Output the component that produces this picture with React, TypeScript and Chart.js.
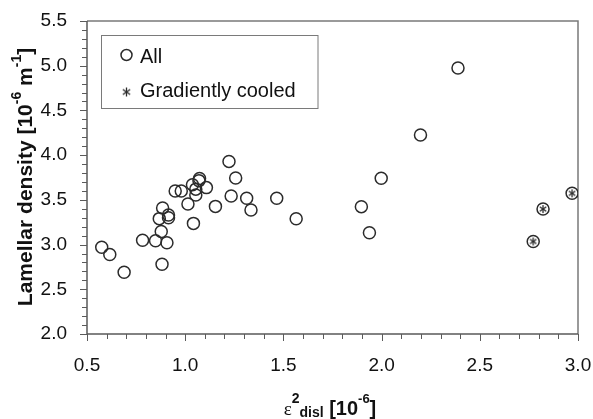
import { useEffect, useRef } from 'react';
import { Chart, registerables } from 'chart.js';

Chart.register(...registerables);

// ---- data ----
const allX = [0.575, 0.616, 0.689, 0.783, 0.849, 0.882, 0.878, 0.868, 0.885, 0.907, 0.915, 0.915, 0.949, 0.98, 1.014, 1.042, 1.037, 1.054, 1.054, 1.073, 1.07, 1.108, 1.154, 1.223, 1.234, 1.257, 1.313, 1.335, 1.466, 1.565, 1.897, 1.938, 1.998, 2.198, 2.389, 2.772, 2.822, 2.97];
const allY = [2.971, 2.889, 2.69, 3.049, 3.043, 2.78, 3.147, 3.29, 3.41, 3.02, 3.33, 3.3, 3.6, 3.6, 3.453, 3.237, 3.67, 3.62, 3.554, 3.738, 3.715, 3.637, 3.427, 3.93, 3.543, 3.745, 3.517, 3.386, 3.517, 3.289, 3.424, 3.132, 3.741, 4.226, 4.974, 3.035, 3.397, 3.573];
const gcX = [2.772, 2.822, 2.97];
const gcY = [3.035, 3.397, 3.573];
const seriesLabels = ['All', 'Gradiently cooled'];
const xTicks = [0.5, 1.0, 1.5, 2.0, 2.5, 3.0];
const yTicks = [2.0, 2.5, 3.0, 3.5, 4.0, 4.5, 5.0, 5.5];
const minorStep = 0.1;

const INK = '#2b2b2b';
const AXIS = '#5a5a5a';
const FRAME = '#7a7a7a';
const SANS = '"Liberation Sans", Arial, sans-serif';

function makeAsterisk(size: number, color: string, lw: number) {
  const c = document.createElement('canvas');
  c.width = size;
  c.height = size;
  const g = c.getContext('2d')!;
  g.strokeStyle = color;
  g.lineWidth = lw;
  const r = size / 2 - 1;
  const m = size / 2;
  for (const a of [90, 35, 145]) {
    const rad = (a * Math.PI) / 180;
    g.beginPath();
    g.moveTo(m - r * Math.cos(rad), m - r * Math.sin(rad));
    g.lineTo(m + r * Math.cos(rad), m + r * Math.sin(rad));
    g.stroke();
  }
  return c;
}

type Seg = { t: string; font: string; dy: number };
function drawRich(ctx: CanvasRenderingContext2D, segs: Seg[], cx: number, by: number) {
  let w = 0;
  for (const s of segs) {
    ctx.font = s.font;
    w += ctx.measureText(s.t).width;
  }
  let x = cx - w / 2;
  ctx.textAlign = 'left';
  ctx.textBaseline = 'alphabetic';
  for (const s of segs) {
    ctx.font = s.font;
    ctx.fillText(s.t, x, by + s.dy);
    x += ctx.measureText(s.t).width;
  }
}

const decorPlugin = {
  id: 'decor',
  beforeDatasetsDraw(chart: any) {
    const ctx = chart.ctx as CanvasRenderingContext2D;
    const { left, right, top, bottom } = chart.chartArea;
    const xs = chart.scales.x;
    const ys = chart.scales.y;
    ctx.save();
    ctx.strokeStyle = FRAME;
    ctx.lineWidth = 1.5;
    ctx.beginPath();
    ctx.moveTo(left, top);
    ctx.lineTo(right, top);
    ctx.lineTo(right, bottom);
    ctx.stroke();
    ctx.strokeStyle = AXIS;
    ctx.lineWidth = 1.5;
    ctx.beginPath();
    ctx.moveTo(left, top);
    ctx.lineTo(left, bottom);
    ctx.lineTo(right, bottom);
    ctx.stroke();
    ctx.lineWidth = 1;
    ctx.beginPath();
    const nx = Math.round((xs.max - xs.min) / minorStep);
    for (let i = 0; i <= nx; i++) {
      const v = xs.min + i * minorStep;
      const px = Math.round(xs.getPixelForValue(v)) + 0.5;
      const major = i % 5 === 0;
      ctx.moveTo(px, bottom);
      ctx.lineTo(px, bottom + (major ? 7 : 5));
    }
    const ny = Math.round((ys.max - ys.min) / minorStep);
    for (let i = 0; i <= ny; i++) {
      const v = ys.min + i * minorStep;
      const py = Math.round(ys.getPixelForValue(v)) + 0.5;
      const major = i % 5 === 0;
      ctx.moveTo(left, py);
      ctx.lineTo(left - (major ? 7 : 5), py);
    }
    ctx.stroke();
    ctx.restore();
  },
  afterDraw(chart: any) {
    const ctx = chart.ctx as CanvasRenderingContext2D;
    ctx.save();
    ctx.fillStyle = '#111';
    // x-axis title
    drawRich(
      ctx,
      [
        { t: 'ε', font: '19px "Liberation Serif", serif', dy: 0 },
        { t: '2', font: 'bold 14px ' + SANS, dy: -12 },
        { t: 'disl', font: 'bold 14px ' + SANS, dy: 1.5 },
        { t: ' [10', font: 'bold 20px ' + SANS, dy: 0 },
        { t: '-6', font: 'bold 13px ' + SANS, dy: -12 },
        { t: ']', font: 'bold 20px ' + SANS, dy: 0 },
      ],
      330,
      415
    );
    // y-axis title
    ctx.save();
    ctx.translate(32, 177);
    ctx.rotate(-Math.PI / 2);
    drawRich(
      ctx,
      [
        { t: 'Lamellar density [10', font: 'bold 21px ' + SANS, dy: 0 },
        { t: '-6', font: 'bold 14px ' + SANS, dy: -11 },
        { t: ' m', font: 'bold 21px ' + SANS, dy: 0 },
        { t: '-1', font: 'bold 14px ' + SANS, dy: -11 },
        { t: ']', font: 'bold 21px ' + SANS, dy: 0 },
      ],
      0,
      0
    );
    ctx.restore();
    // legend
    ctx.fillStyle = '#fff';
    ctx.fillRect(101.5, 35.5, 216.5, 73);
    ctx.strokeStyle = FRAME;
    ctx.lineWidth = 1;
    ctx.strokeRect(101.5, 35.5, 216.5, 73);
    ctx.strokeStyle = INK;
    ctx.lineWidth = 1.5;
    ctx.beginPath();
    ctx.arc(126.5, 55, 5.5, 0, Math.PI * 2);
    ctx.stroke();
    ctx.drawImage(makeAsterisk(11, INK, 1.3), 121, 86.5);
    ctx.fillStyle = '#111';
    ctx.font = '20px ' + SANS;
    ctx.textAlign = 'left';
    ctx.textBaseline = 'alphabetic';
    ctx.fillText(chart.data.datasets[0].label, 140, 62.5);
    ctx.fillText(chart.data.datasets[1].label, 140, 97);
    ctx.restore();
  },
};

export default function App() {
  const ref = useRef<HTMLCanvasElement | null>(null);
  useEffect(() => {
    if (!ref.current) return;
    const star = makeAsterisk(10, INK, 1.3);
    const chart = new Chart(ref.current, {
      type: 'scatter',
      data: {
        datasets: [
          {
            label: seriesLabels[0],
            data: allX.map((x, i) => ({ x, y: allY[i] })),
            pointStyle: 'circle',
            radius: 6,
            borderColor: INK,
            borderWidth: 1.5,
            backgroundColor: 'rgba(0,0,0,0)',
          },
          {
            label: seriesLabels[1],
            data: gcX.map((x, i) => ({ x, y: gcY[i] })),
            pointStyle: star as any,
            radius: 5,
            borderColor: INK,
            backgroundColor: INK,
          },
        ],
      },
      options: {
        animation: false,
        responsive: false,
        events: [],
        layout: { padding: { top: 21, right: 15, left: 0, bottom: 0 } },
        plugins: { legend: { display: false }, tooltip: { enabled: false } },
        scales: {
          x: {
            type: 'linear',
            min: xTicks[0],
            max: xTicks[xTicks.length - 1],
            afterBuildTicks: (s: any) => {
              s.ticks = xTicks.map((v) => ({ value: v }));
            },
            afterFit: (s: any) => {
              s.height = 85;
              s.paddingLeft = 0;
              s.paddingRight = 0;
            },
            grid: { display: false, drawTicks: false },
            border: { display: false },
            ticks: {
              font: { size: 19, family: SANS },
              color: '#111',
              padding: 20,
              callback: (v: any) => Number(v).toFixed(1),
            },
          },
          y: {
            type: 'linear',
            min: yTicks[0],
            max: yTicks[yTicks.length - 1],
            afterBuildTicks: (s: any) => {
              s.ticks = yTicks.map((v) => ({ value: v }));
            },
            afterFit: (s: any) => {
              s.width = 87;
              s.paddingTop = 0;
              s.paddingBottom = 0;
            },
            grid: { display: false, drawTicks: false },
            border: { display: false },
            ticks: {
              font: { size: 19, family: SANS },
              color: '#111',
              padding: 20,
              callback: (v: any) => Number(v).toFixed(1),
            },
          },
        },
      },
      plugins: [decorPlugin],
    });
    return () => chart.destroy();
  }, []);
  return (
    <div style={{ position: 'fixed', left: 0, top: 0, width: 593, height: 419, background: '#fff' }}>
      <canvas ref={ref} width={593} height={419} style={{ display: 'block' }} />
    </div>
  );
}
